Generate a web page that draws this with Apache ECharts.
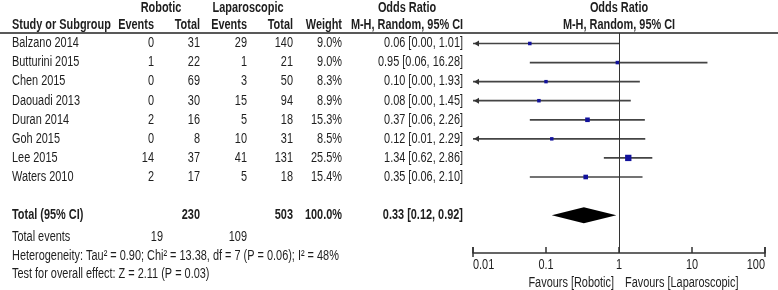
<!DOCTYPE html>
<html>
<head>
<meta charset="utf-8">
<script src="https://cdn.jsdelivr.net/npm/echarts@6/dist/echarts.min.js"></script>
<style>
  html, body { margin: 0; padding: 0; background: #fff; }
  #chart { width: 778px; height: 290px; }
</style>
</head>
<body>
<div id="chart"></div>
<script>
const studies = ['Balzano 2014', 'Butturini 2015', 'Chen 2015', 'Daouadi 2013', 'Duran 2014', 'Goh 2015', 'Lee 2015', 'Waters 2010']
const robEvents = [0, 1, 0, 0, 2, 0, 14, 2]
const robTotal = [31, 22, 69, 30, 16, 8, 37, 17]
const lapEvents = [29, 1, 3, 15, 5, 10, 41, 5]
const lapTotal = [140, 21, 50, 94, 18, 31, 131, 18]
const weights = [9.0, 9.0, 8.3, 8.9, 15.3, 8.5, 25.5, 15.4]
const orEst = [0.06, 0.95, 0.10, 0.08, 0.37, 0.12, 1.34, 0.35]
const ciLow = [0.00, 0.06, 0.00, 0.00, 0.06, 0.01, 0.62, 0.06]
const ciHigh = [1.01, 16.28, 1.93, 1.45, 2.26, 2.29, 2.86, 2.10]

const totalRob = 230
const totalLap = 503
const totalWeight = 100.0
const pooled = [0.33, 0.12, 0.92]
const eventsRob = 19
const eventsLap = 109
const heteroText = 'Heterogeneity: Tau² = 0.90; Chi² = 13.38, df = 7 (P = 0.06); I² = 48%'
const overallText = 'Test for overall effect: Z = 2.11 (P = 0.03)'
const tickLabels = ['0.01', '0.1', '1', '10', '100']
const tickVals = tickLabels.map(Number)

// layout
const FONT = "'Liberation Sans', Arial, sans-serif"
const FS = 14
const NARROW = 0.78 // squeeze Arial-like glyphs into an Arial Narrow look
const TOP = 33
const ROW_PX = 19.07
const Y_MIN = -(43.5 - TOP) / ROW_PX
const col = { study: 12, robE: 154, robT: 200, lapE: 247, lapT: 293, weight: 342, or: 463, orHead: 407 }
const hdr1 = -1.86, hdr2 = -0.97
const totalRow = studies.length + 1

const fmt2 = v => v.toFixed(2)
const orText = (e, l, h) => `${fmt2(e)} [${fmt2(l)}, ${fmt2(h)}]`

// table cells: [x, row, text, align, bold]
const cells = []
cells.push([161, hdr1, 'Robotic', 'center', true])
cells.push([248, hdr1, 'Laparoscopic', 'center', true])
cells.push([col.orHead, hdr1, 'Odds Ratio', 'center', true])
cells.push([col.study, hdr2, 'Study or Subgroup', 'left', true])
cells.push([col.robE, hdr2, 'Events', 'right', true])
cells.push([col.robT, hdr2, 'Total', 'right', true])
cells.push([col.lapE, hdr2, 'Events', 'right', true])
cells.push([col.lapT, hdr2, 'Total', 'right', true])
cells.push([col.weight, hdr2, 'Weight', 'right', true])
cells.push([col.orHead, hdr2, 'M-H, Random, 95% CI', 'center', true])
studies.forEach((s, i) => {
  cells.push([col.study, i, s, 'left', false])
  cells.push([col.robE, i, String(robEvents[i]), 'right', false])
  cells.push([col.robT, i, String(robTotal[i]), 'right', false])
  cells.push([col.lapE, i, String(lapEvents[i]), 'right', false])
  cells.push([col.lapT, i, String(lapTotal[i]), 'right', false])
  cells.push([col.weight, i, weights[i].toFixed(1) + '%', 'right', false])
  cells.push([col.or, i, orText(orEst[i], ciLow[i], ciHigh[i]), 'right', false])
})
cells.push([col.study, totalRow, 'Total (95% CI)', 'left', true])
cells.push([col.robT, totalRow, String(totalRob), 'right', true])
cells.push([col.lapT, totalRow, String(totalLap), 'right', true])
cells.push([col.weight, totalRow, totalWeight.toFixed(1) + '%', 'right', true])
cells.push([col.or, totalRow, orText(pooled[0], pooled[1], pooled[2]), 'right', true])
cells.push([col.study, totalRow + 1.15, 'Total events', 'left', false])
cells.push([163, totalRow + 1.15, String(eventsRob), 'right', false])
cells.push([col.lapE, totalRow + 1.15, String(eventsLap), 'right', false])
cells.push([col.study, totalRow + 2.15, heteroText, 'left', false])
cells.push([col.study, totalRow + 3.1, overallText, 'left', false])

// right-hand header and footer texts: [x (OR), row, text, align, dx, bold]
const plotTexts = [
  [1, hdr1, 'Odds Ratio', 'center', 0, true],
  [1, hdr2, 'M-H, Random, 95% CI', 'center', 0, true],
  [1, 12.58, 'Favours [Robotic]', 'right', -5, false],
  [1, 12.58, 'Favours [Laparoscopic]', 'left', 6, false]
]

const textItem = (pt, txt, align, bold) => ({
  type: 'text',
  x: pt[0], y: pt[1], scaleX: NARROW,
  style: {
    text: txt, textAlign: align, textVerticalAlign: 'middle',
    font: `${bold ? 'bold ' : ''}${FS}px ${FONT}`, fill: '#1e1e1e'
  }
})

const chart = echarts.init(document.getElementById('chart'))

chart.setOption({
  animation: false,
  grid: [
    { left: 0, width: 470, top: TOP, height: 257 },
    { left: 473, right: 13, top: TOP, height: 220 }
  ],
  xAxis: [
    { gridIndex: 0, type: 'value', min: 0, max: 470, show: false },
    {
      gridIndex: 1, type: 'log', logBase: 10, min: 0.01, max: 100,
      axisLine: { show: true, onZero: false, lineStyle: { color: '#333', width: 1.5 } },
      axisTick: { show: true, inside: true, length: 6, lineStyle: { color: '#333', width: 1.5 } },
      minorTick: { show: false },
      splitLine: { show: false },
      axisLabel: { show: false }
    }
  ],
  yAxis: [
    { gridIndex: 0, type: 'value', inverse: true, min: Y_MIN, max: Y_MIN + 257 / ROW_PX, show: false },
    { gridIndex: 1, type: 'value', inverse: true, min: Y_MIN, max: Y_MIN + 220 / ROW_PX, show: false }
  ],
  graphic: [
    { type: 'line', shape: { x1: 0, y1: TOP, x2: 778, y2: TOP }, style: { stroke: '#222', lineWidth: 1.5 } }
  ],
  series: [
    {
      // table text
      type: 'custom', xAxisIndex: 0, yAxisIndex: 0,
      data: cells.map(c => [c[0], c[1]]),
      renderItem: (params, api) => {
        const c = cells[params.dataIndex]
        return textItem(api.coord([c[0], c[1]]), c[2], c[3], c[4])
      }
    },
    {
      // plot header and favours labels
      type: 'custom', xAxisIndex: 1, yAxisIndex: 1, clip: false,
      data: plotTexts.map(t => [t[0], t[1]]),
      renderItem: (params, api) => {
        const t = plotTexts[params.dataIndex]
        const p = api.coord([t[0], t[1]])
        return textItem([p[0] + t[4], p[1]], t[2], t[3], t[5])
      }
    },
    {
      // tick labels under the log axis
      type: 'custom', xAxisIndex: 1, yAxisIndex: 1, clip: false,
      data: tickVals.map(v => [v]),
      encode: { x: 0 },
      renderItem: (params, api) => {
        const i = params.dataIndex
        const x = api.coord([tickVals[i], 0])[0]
        const yb = params.coordSys.y + params.coordSys.height
        const align = i === 0 ? 'left' : i === tickVals.length - 1 ? 'right' : 'center'
        const children = [textItem([x, yb + 12], tickLabels[i], align, false)]
        if (i === 0 || i === tickVals.length - 1) {
          // end ticks cross the axis line
          children.push({ type: 'line', shape: { x1: x, y1: yb - 6, x2: x, y2: yb + 4 }, style: { stroke: '#333', lineWidth: 1.5 } })
        }
        return { type: 'group', children }
      }
    },
    {
      // study CIs with weighted squares
      type: 'custom', xAxisIndex: 1, yAxisIndex: 1,
      data: studies.map((s, i) => [orEst[i], i, Math.max(ciLow[i], 0.01), ciHigh[i], weights[i], ciLow[i] <= 0.01 ? 1 : 0]),
      encode: { x: 0, y: 1 },
      renderItem: (params, api) => {
        const row = api.value(1)
        const pe = api.coord([api.value(0), row])
        const pl = api.coord([api.value(2), row])
        const ph = api.coord([api.value(3), row])
        const sz = 2 + api.value(4) * 0.17
        const children = [
          { type: 'line', shape: { x1: pl[0], y1: pl[1], x2: ph[0], y2: ph[1] }, style: { stroke: '#444', lineWidth: 1.7 } }
        ]
        if (api.value(5)) {
          children.push({
            type: 'polygon',
            shape: { points: [[pl[0] + 1, pl[1]], [pl[0] + 6, pl[1] - 3], [pl[0] + 6, pl[1] + 3]] },
            style: { fill: '#333' }
          })
        }
        children.push({
          type: 'rect',
          shape: { x: pe[0] - sz / 2, y: pe[1] - sz / 2, width: sz, height: sz },
          style: { fill: '#12129c' }
        })
        return { type: 'group', children }
      },
      markLine: {
        silent: true, symbol: 'none', label: { show: false },
        lineStyle: { color: '#333', width: 1, type: 'solid' },
        data: [{ xAxis: 1 }]
      }
    },
    {
      // pooled diamond
      type: 'custom', xAxisIndex: 1, yAxisIndex: 1,
      data: [[pooled[0], totalRow, pooled[1], pooled[2]]],
      encode: { x: 0, y: 1 },
      renderItem: (params, api) => {
        const row = api.value(1)
        const pe = api.coord([api.value(0), row])
        const pl = api.coord([api.value(2), row])
        const ph = api.coord([api.value(3), row])
        return {
          type: 'polygon',
          shape: { points: [[pl[0], pe[1]], [pe[0], pe[1] - 8], [ph[0], pe[1]], [pe[0], pe[1] + 8]] },
          style: { fill: '#000' }
        }
      }
    }
  ]
})
</script>
</body>
</html>
